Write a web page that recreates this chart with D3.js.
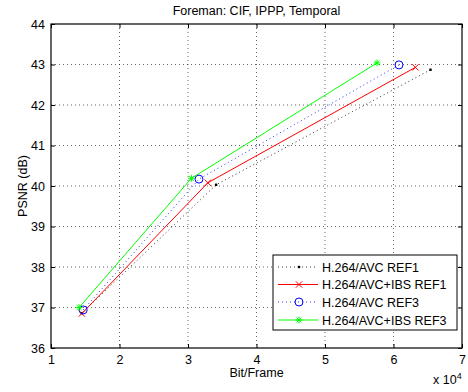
<!DOCTYPE html>
<html><head><meta charset="utf-8">
<script src="https://cdn.jsdelivr.net/npm/d3@7"></script>
<style>body{margin:0;background:#fff}svg{display:block;font-family:"Liberation Sans",Arial,sans-serif}</style>
</head><body>
<script>
const seriesNames = ["H.264/AVC REF1","H.264/AVC+IBS REF1","H.264/AVC REF3","H.264/AVC+IBS REF3"];
const ref1X = [1.45, 3.41, 6.54];
const ref1Y = [36.86, 40.03, 42.87];
const ibsRef1X = [1.45, 3.29, 6.32];
const ibsRef1Y = [36.85, 40.08, 42.93];
const ref3X = [1.47, 3.16, 6.08];
const ref3Y = [36.94, 40.17, 42.99];
const ibsRef3X = [1.41, 3.05, 5.76];
const ibsRef3Y = [37.0, 40.19, 43.04];
const xTicks = [1,2,3,4,5,6,7];
const yTicks = [36,37,38,39,40,41,42,43,44];

const W=468,H=392;
const m={l:51,r:6,t:24,b:44};
const FS=12.5;
const svg=d3.select("body").append("svg").attr("width",W).attr("height",H);
const x=d3.scaleLinear().domain([1,7]).range([m.l,W-m.r]);
const y=d3.scaleLinear().domain([36,44]).range([H-m.b,m.t]);
const L=m.l,R=W-m.r,T=m.t,B=H-m.b;

// grid
const g=svg.append("g");
xTicks.slice(1,-1).forEach(v=>g.append("line").attr("x1",x(v)).attr("x2",x(v)).attr("y1",T).attr("y2",B)
  .attr("stroke","#000").attr("stroke-width",0.6).attr("stroke-dasharray","1,3"));
yTicks.slice(1,-1).forEach(v=>g.append("line").attr("y1",y(v)).attr("y2",y(v)).attr("x1",L).attr("x2",R)
  .attr("stroke","#000").attr("stroke-width",0.6).attr("stroke-dasharray","1,3"));

// axes with inward ticks
const ax=svg.append("g").attr("transform",`translate(0,${B})`).call(d3.axisBottom(x).tickValues(xTicks).tickSize(-4).tickPadding(7).tickFormat(d3.format("d")));
const ay=svg.append("g").attr("transform",`translate(${L},0)`).call(d3.axisLeft(y).tickValues(yTicks).tickSize(-4).tickPadding(6).tickFormat(d3.format("d")));
const axT=svg.append("g").attr("transform",`translate(0,${T})`).call(d3.axisTop(x).tickValues(xTicks).tickSize(-4).tickFormat(""));
const ayR=svg.append("g").attr("transform",`translate(${R},0)`).call(d3.axisRight(y).tickValues(yTicks).tickSize(-4).tickFormat(""));
[ax,ay,axT,ayR].forEach(a=>{a.select(".domain").remove();a.selectAll("line").attr("stroke","#000");a.selectAll("text").attr("font-size",FS).attr("fill","#000").attr("font-family","Liberation Sans, Arial, sans-serif");});
svg.append("rect").attr("x",L).attr("y",T).attr("width",R-L).attr("height",B-T).attr("fill","none").attr("stroke","#000").attr("stroke-width",1.2);

// labels
svg.append("text").attr("x",(L+R)/2).attr("y",15).attr("text-anchor","middle").attr("font-size",FS).text("Foreman: CIF, IPPP, Temporal");
svg.append("text").attr("x",(L+R)/2).attr("y",377).attr("text-anchor","middle").attr("font-size",FS).text("Bit/Frame");
svg.append("text").attr("transform",`translate(27,${(T+B)/2}) rotate(-90)`).attr("text-anchor","middle").attr("font-size",FS).text("PSNR (dB)");
const ex=svg.append("text").attr("x",433).attr("y",384).attr("font-size",FS);
ex.append("tspan").text("x 10");
ex.append("tspan").attr("dy",-5).attr("font-size",9).text("4");

const styles=[
 {c:"#000",dash:"1,3",w:0.8,mk:"dot"},
 {c:"#ff0000",dash:null,w:1,mk:"x"},
 {c:"#0000ff",dash:"1,3",w:0.8,mk:"o"},
 {c:"#00ff00",dash:null,w:1,mk:"*"}];
const data=[[ref1X,ref1Y],[ibsRef1X,ibsRef1Y],[ref3X,ref3Y],[ibsRef3X,ibsRef3Y]];
const line=d3.line().x(d=>x(d[0])).y(d=>y(d[1]));
function marker(sel,type,cx,cy,c){
  if(type==="dot") sel.append("rect").attr("x",cx-1.2).attr("y",cy-1.2).attr("width",2.4).attr("height",2.4).attr("fill",c);
  else if(type==="x"){const s=3.2;sel.append("path").attr("d",`M${cx-s},${cy-s}L${cx+s},${cy+s}M${cx-s},${cy+s}L${cx+s},${cy-s}`).attr("stroke",c).attr("stroke-width",1);}
  else if(type==="o") sel.append("circle").attr("cx",cx).attr("cy",cy).attr("r",4).attr("fill","none").attr("stroke",c).attr("stroke-width",1);
  else {const s=3.4,d=s*0.72;sel.append("path").attr("d",`M${cx-s},${cy}L${cx+s},${cy}M${cx},${cy-s}L${cx},${cy+s}M${cx-d},${cy-d}L${cx+d},${cy+d}M${cx-d},${cy+d}L${cx+d},${cy-d}`).attr("stroke",c).attr("stroke-width",1);}
}
data.forEach((dd,i)=>{
  const pts=dd[0].map((v,j)=>[v,dd[1][j]]);
  const st=styles[i];
  const p=svg.append("path").datum(pts).attr("d",line).attr("fill","none").attr("stroke",st.c).attr("stroke-width",st.w);
  if(st.dash) p.attr("stroke-dasharray",st.dash);
  pts.forEach(pt=>marker(svg,st.mk,x(pt[0]),y(pt[1]),st.c));
});

// legend
const lg=svg.append("g");
lg.append("rect").attr("x",273).attr("y",255).attr("width",184).attr("height",75).attr("fill","#fff").attr("stroke","#000").attr("stroke-width",1);
const rowsY=[267,284.5,302,320];
seriesNames.forEach((n,i)=>{
  const st=styles[i],yy=rowsY[i];
  const l=lg.append("line").attr("x1",278).attr("x2",318).attr("y1",yy).attr("y2",yy).attr("stroke",st.c).attr("stroke-width",st.w);
  if(st.dash) l.attr("stroke-dasharray",st.dash);
  marker(lg,st.mk,299,yy,st.c);
  lg.append("text").attr("x",322).attr("y",yy+4.5).attr("font-size",FS).text(n);
});
</script>
</body></html>
